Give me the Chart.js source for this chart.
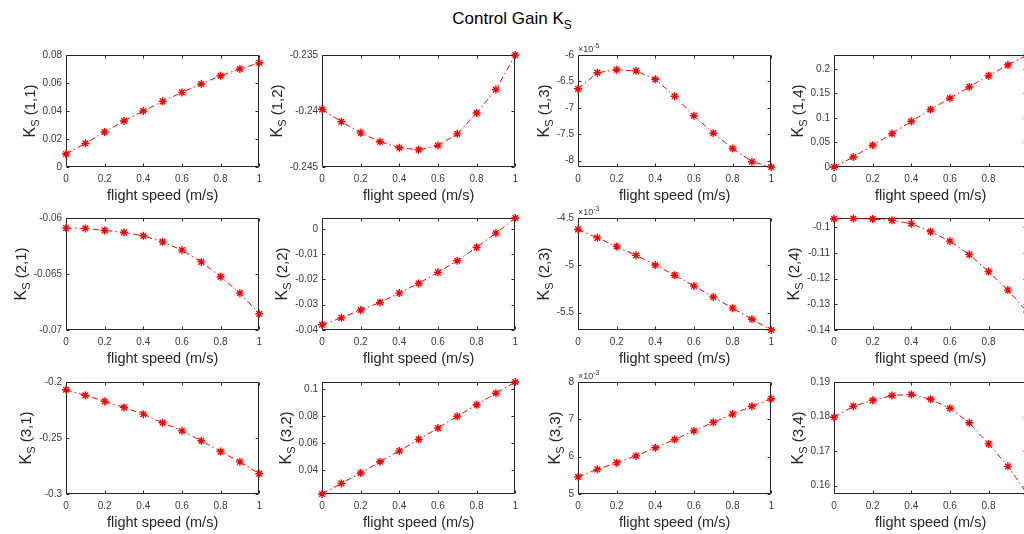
<!DOCTYPE html>
<html>
<head>
<meta charset="utf-8">
<script src="https://cdn.jsdelivr.net/npm/chart.js@4.4.1/dist/chart.umd.min.js"></script>
<style>
  html, body { margin: 0; padding: 0; background: #fff; }
  #fig { position: relative; width: 1024px; height: 534px; overflow: hidden; background: #fff;
         font-family: "Liberation Sans", Arial, sans-serif; }
  #title { position: absolute; left: 0; top: 9px; width: 1024px; text-align: center;
           font-size: 17px; color: #000; }
  #title sub { font-size: 12px; vertical-align: -5px; line-height: 0; }
  canvas { position: absolute; }
</style>
</head>
<body>
<div id="fig"><div id="title">Control Gain K<sub>S</sub></div></div>
<script>
// flight speed samples (m/s)
const speeds = [0, 0.1, 0.2, 0.3, 0.4, 0.5, 0.6, 0.7, 0.8, 0.9, 1];
const xTicks = [0, 0.2, 0.4, 0.6, 0.8, 1];

// K_S entries, row by row
const ks11 = [0.0093, 0.0169, 0.0250, 0.0329, 0.0400, 0.0469, 0.0533, 0.0593, 0.0652, 0.0700, 0.0745];
const ks12 = [-0.23985, -0.24095, -0.24195, -0.24275, -0.24328, -0.24346, -0.24308, -0.24204, -0.24018, -0.23808, -0.2350];
const ks13 = [-6.64, -6.335, -6.28, -6.30, -6.46, -6.78, -7.15, -7.48, -7.77, -8.02, -8.12]; // x10^-5
const ks14 = [0.000, 0.0204, 0.0442, 0.068, 0.093, 0.117, 0.140, 0.163, 0.186, 0.2075, 0.228];
const ks21 = [-0.0609, -0.06093, -0.06111, -0.06129, -0.06159, -0.06213, -0.06287, -0.06392, -0.06524, -0.06671, -0.06856];
const ks22 = [-0.0379, -0.0352, -0.0321, -0.0291, -0.0254, -0.0216, -0.0172, -0.0126, -0.0073, -0.0017, 0.0043];
const ks23 = [-4.621, -4.710, -4.802, -4.895, -4.998, -5.105, -5.219, -5.336, -5.454, -5.571, -5.685]; // x10^-3
const ks24 = [-0.0968, -0.0967, -0.0969, -0.0974, -0.0987, -0.1018, -0.1055, -0.1107, -0.1173, -0.1245, -0.133];
const ks31 = [-0.2069, -0.2119, -0.2173, -0.2227, -0.2287, -0.2364, -0.2436, -0.2525, -0.2621, -0.2713, -0.2818];
const ks32 = [0.0225, 0.0303, 0.0380, 0.0463, 0.0543, 0.0628, 0.0711, 0.0798, 0.0883, 0.0968, 0.1051];
const ks33 = [5.46, 5.66, 5.84, 6.02, 6.24, 6.46, 6.69, 6.92, 7.14, 7.35, 7.55]; // x10^-3
const ks34 = [0.1798, 0.1830, 0.1847, 0.1861, 0.1864, 0.1850, 0.1824, 0.1782, 0.1721, 0.1656, 0.1576];

const series = [ks11, ks12, ks13, ks14, ks21, ks22, ks23, ks24, ks31, ks32, ks33, ks34];
const panelLabels = ["(1,1)", "(1,2)", "(1,3)", "(1,4)", "(2,1)", "(2,2)", "(2,3)", "(2,4)", "(3,1)", "(3,2)", "(3,3)", "(3,4)"];
const yLimits = [
  [0, 0.08], [-0.245, -0.235], [-8.12, -6], [0, 0.228],
  [-0.07, -0.06], [-0.04, 0.0043], [-5.685, -4.5], [-0.14, -0.0965],
  [-0.3, -0.2], [0.0225, 0.1051], [5, 8], [0.1576, 0.19],
];
const yTicks = [
  [0, 0.02, 0.04, 0.06, 0.08], [-0.245, -0.24, -0.235], [-8, -7.5, -7, -6.5, -6], [0, 0.05, 0.1, 0.15, 0.2],
  [-0.07, -0.065, -0.06], [-0.04, -0.03, -0.02, -0.01, 0], [-5.5, -5, -4.5], [-0.14, -0.13, -0.12, -0.11, -0.1],
  [-0.3, -0.25, -0.2], [0.04, 0.06, 0.08, 0.1], [5, 6, 7, 8], [0.16, 0.17, 0.18, 0.19],
];
const yExponents = [null, null, "-5", null, null, null, "-3", null, null, null, "-3", null];

const FONT = '"Liberation Sans", Arial, sans-serif';
const INK = "#262626";
const TICK_INK = "#3a3a3a";
const colLeft = [66, 322, 578, 834];
const rowTop = [55, 218, 382];

const fmt = (v) => String(Number(v.toFixed(6)));

// MATLAB-style box: frame, inward ticks, axis labels, exponent
const frame = {
  id: "frame",
  beforeDatasetsDraw(chart, args, o) {
    const { ctx, chartArea: a, scales: { x, y } } = chart;
    const L = Math.round(a.left) + 0.5, R = Math.round(a.right) - 0.5;
    const T = Math.round(a.top) + 0.5, B = Math.round(a.bottom) - 0.5;
    ctx.save();
    ctx.strokeStyle = INK;
    ctx.lineWidth = 1;
    ctx.beginPath();
    ctx.rect(L, T, R - L, B - T);
    x.ticks.forEach((t) => {
      const px = Math.round(x.getPixelForValue(t.value)) + 0.5;
      ctx.moveTo(px, B); ctx.lineTo(px, B - 3);
      ctx.moveTo(px, T); ctx.lineTo(px, T + 3);
    });
    y.ticks.forEach((t) => {
      const py = Math.round(y.getPixelForValue(t.value)) + 0.5;
      ctx.moveTo(L, py); ctx.lineTo(L + 3, py);
      ctx.moveTo(R, py); ctx.lineTo(R - 3, py);
    });
    ctx.stroke();
    ctx.restore();
  },
  afterDraw(chart, args, o) {
    const { ctx, chartArea: a, scales: { y } } = chart;
    ctx.save();
    ctx.fillStyle = INK;

    // x label
    ctx.font = `14.5px ${FONT}`;
    ctx.textAlign = "center";
    ctx.textBaseline = "middle";
    ctx.fillText("flight speed (m/s)", (a.left + a.right) / 2, a.bottom + 29);

    // widest y tick label decides where the y label goes
    ctx.font = `10px ${FONT}`;
    const tickW = Math.max(...y.ticks.map((t) => ctx.measureText(fmt(t.value)).width));
    const labelX = a.left - 4 - tickW - 13;

    // y label: K_S (r,c), rotated
    ctx.save();
    ctx.translate(labelX, (a.top + a.bottom) / 2);
    ctx.rotate(-Math.PI / 2);
    ctx.textAlign = "left";
    ctx.textBaseline = "alphabetic";
    const fK = `16px ${FONT}`, fS = `11px ${FONT}`, fR = `15px ${FONT}`;
    ctx.font = fK; const wK = ctx.measureText("K").width;
    ctx.font = fS; const wS = ctx.measureText("S").width;
    ctx.font = fR; const rest = " " + o.label; const wR = ctx.measureText(rest).width;
    let px = -(wK + wS + wR) / 2;
    ctx.font = fK; ctx.fillText("K", px, 5); px += wK;
    ctx.font = fS; ctx.fillText("S", px, 9); px += wS;
    ctx.font = fR; ctx.fillText(rest, px, 5);
    ctx.restore();

    // exponent above the box
    if (o.exp) {
      ctx.fillStyle = TICK_INK;
      ctx.textAlign = "left";
      ctx.textBaseline = "alphabetic";
      ctx.font = `9px ${FONT}`;
      const base = "\u00d710";
      ctx.fillText(base, a.left, a.top - 3);
      const w = ctx.measureText(base).width;
      ctx.font = `7px ${FONT}`;
      ctx.fillText(o.exp, a.left + w, a.top - 7);
    }
    ctx.restore();
  },
};

const fig = document.getElementById("fig");

series.forEach((vals, i) => {
  const row = Math.floor(i / 4), col = i % 4;
  const cv = document.createElement("canvas");
  cv.width = 268; cv.height = 167;
  cv.style.left = (colLeft[col] - 66) + "px";
  cv.style.top = (rowTop[row] - 15) + "px";
  fig.appendChild(cv);

  new Chart(cv, {
    type: "line",
    data: {
      datasets: [{
        data: speeds.map((s, k) => ({ x: s, y: vals[k] })),
        borderColor: "#ff0000",
        borderWidth: 1,
        borderDash: [6, 3, 1.5, 3],
        pointStyle: "star",
        pointRadius: 4,
        pointBorderColor: "#ff0000",
        pointBackgroundColor: "#ff0000",
        pointBorderWidth: 1.4,
        tension: 0,
        clip: false,
      }],
    },
    options: {
      responsive: false,
      animation: false,
      events: [],
      layout: { padding: { left: 0, top: 15, right: 8, bottom: 0 } },
      plugins: {
        legend: { display: false },
        tooltip: { enabled: false },
        frame: { label: panelLabels[i], exp: yExponents[i] },
      },
      scales: {
        x: {
          type: "linear",
          min: 0, max: 1,
          afterBuildTicks: (s) => { s.ticks = xTicks.map((v) => ({ value: v })); },
          afterFit: (s) => { s.height = 40; },
          grid: { display: false, drawTicks: false },
          border: { display: false },
          ticks: { padding: 6, color: TICK_INK, font: { family: FONT, size: 10 }, maxRotation: 0, autoSkip: false, callback: fmt },
        },
        y: {
          type: "linear",
          min: yLimits[i][0], max: yLimits[i][1],
          afterBuildTicks: (s) => { s.ticks = yTicks[i].map((v) => ({ value: v })); },
          afterFit: (s) => { s.width = 66; },
          grid: { display: false, drawTicks: false },
          border: { display: false },
          ticks: { padding: 4, color: TICK_INK, font: { family: FONT, size: 10 }, autoSkip: false, callback: fmt },
        },
      },
    },
    plugins: [frame],
  });
});
</script>
</body>
</html>
